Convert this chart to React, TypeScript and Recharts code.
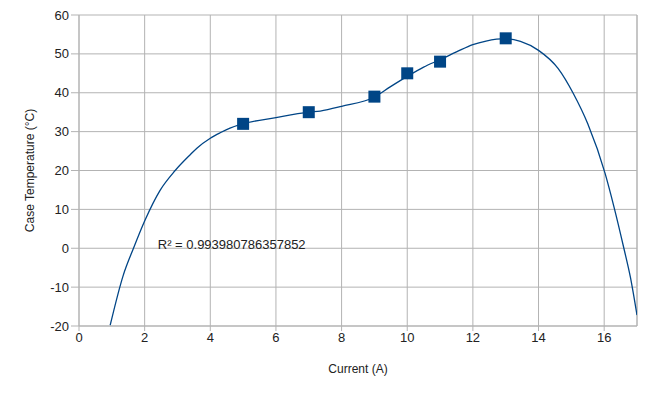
import {
  ComposedChart, Line, Scatter, XAxis, YAxis,
  CartesianGrid, ReferenceLine, ReferenceDot,
} from 'recharts';

// measured points
const currents = [5, 7, 9, 10, 11, 13];
const temps = [32, 35, 39, 45, 48, 54];

// trend line
const trendX = [0.95, 1.35, 1.66, 2.01, 2.47, 2.93, 3.38, 3.6, 4.0, 4.3, 4.6, 4.9, 6.0, 7.0, 7.35, 8.0, 9.0, 9.48, 10.0, 10.5, 11.0, 11.5, 12.0, 12.4, 13.0, 13.45, 14.0, 14.6, 15.06, 15.5, 16.03, 16.3, 16.6, 16.8, 17.0];
const trendY = [-19.8, -6.9, 0, 7.2, 14.9, 20, 24.0, 25.8, 28.3, 29.7, 30.9, 31.8, 33.6, 35.0, 35.3, 36.5, 38.9, 41.5, 44.2, 46.6, 48.5, 50.5, 52.4, 53.3, 53.9, 53.2, 50.9, 46.2, 39.8, 32, 19.2, 10.6, 0, -7.5, -17.2];

const xTicks = [0, 2, 4, 6, 8, 10, 12, 14, 16];
const yTicks = [-20, -10, 0, 10, 20, 30, 40, 50, 60];

const r2Text = 'R² = 0.993980786357852';

const points = currents.map((x, i) => ({ x, y: temps[i] }));
const trend = trendX.map((x, i) => ({ x, y: trendY[i] }));

const BLUE = '#004586';
const GRID = '#b3b3b3';
const FONT = '"Liberation Sans", Arial, sans-serif';

function Square({ cx, cy }: { cx?: number; cy?: number }) {
  if (cx == null || cy == null) return null;
  return <rect x={cx - 6} y={cy - 6} width={12} height={12} fill={BLUE} />;
}

export default function App() {
  const tick = { fill: '#222', fontSize: 13, fontFamily: FONT };
  return (
    <div style={{ position: 'fixed', left: 0, top: 0, background: '#fff' }}>
      <ComposedChart
        width={650}
        height={396}
        margin={{ top: 15, right: 13, bottom: 20, left: 0 }}
      >
        <CartesianGrid stroke={GRID} strokeWidth={1} />
        <XAxis
          type="number"
          dataKey="x"
          domain={[0, 17]}
          ticks={xTicks}
          allowDataOverflow
          stroke={GRID}
          tickSize={5}
          tick={tick}
          height={50}
          label={{ value: 'Current (A)', position: 'insideBottom', offset: 3, fill: '#222', fontSize: 12, fontFamily: FONT }}
        />
        <YAxis
          type="number"
          domain={[-20, 60]}
          ticks={yTicks}
          allowDataOverflow
          stroke={GRID}
          tickSize={8}
          tick={tick}
          width={79}
          label={{ value: 'Case Temperature (°C)', angle: -90, position: 'center', dx: -10, fill: '#222', fontSize: 12, fontFamily: FONT }}
        />
        <ReferenceLine x={17} stroke={GRID} />
        <Line
          data={trend}
          dataKey="y"
          type="monotone"
          stroke={BLUE}
          strokeWidth={1.3}
          dot={false}
          activeDot={false}
          isAnimationActive={false}
        />
        <Scatter
          data={points}
          dataKey="y"
          fill={BLUE}
          shape={<Square />}
          isAnimationActive={false}
        />
        <ReferenceDot
          x={2.4}
          y={1}
          r={0}
          stroke="none"
          label={{ value: r2Text, position: 'right', fill: '#222', fontSize: 13, fontFamily: FONT, offset: 0 }}
        />
      </ComposedChart>
    </div>
  );
}
